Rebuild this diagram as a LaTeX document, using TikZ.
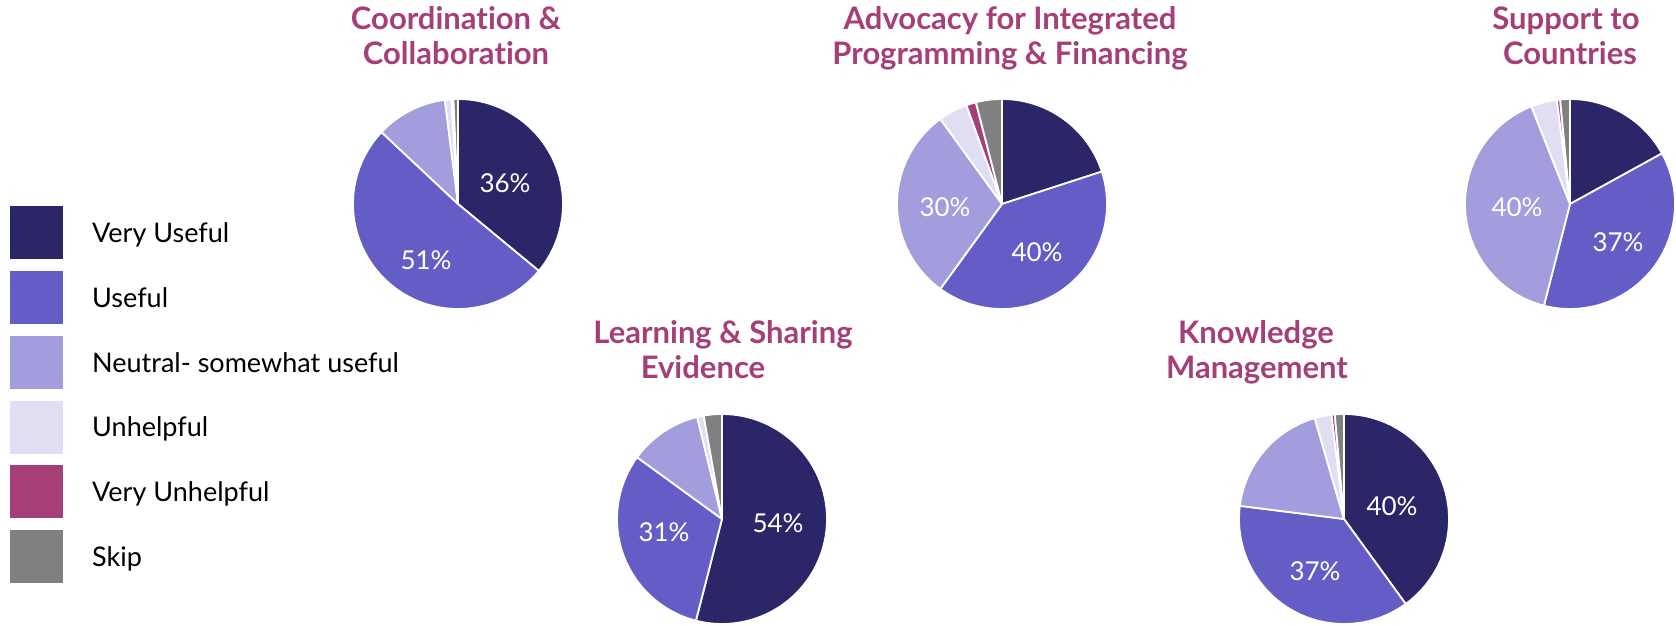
\documentclass[tikz,border=0pt]{standalone}
\usepackage{fontspec}
\setmainfont{Lato}[Ligatures={TeX,NoCommon}]
\definecolor{vuse}{HTML}{2B2668}
\definecolor{use}{HTML}{655DC6}
\definecolor{neut}{HTML}{A29DDD}
\definecolor{unh}{HTML}{E0DEF3}
\definecolor{vunh}{HTML}{A63F77}
\definecolor{skipc}{HTML}{808080}
\definecolor{ttl}{HTML}{A53F78}
\newcommand\drawpie[2]{%
  \gdef\mycumul{0}%
  \foreach \v/\c in {#2} {%
    \pgfmathsetmacro\aa{90-3.6*\mycumul}%
    \pgfmathsetmacro\bb{90-3.6*(\mycumul+\v)}%
    \fill[\c,draw=white,line width=1.8pt,line join=round] (#1) -- ++(\aa:105) arc[start angle=\aa,end angle=\bb,radius=105] -- cycle;%
    \pgfmathsetmacro\nc{\mycumul+\v}\global\let\mycumul\nc
  }%
}
\tikzset{
  ttlstyle/.style={font=\fontsize{31}{36}\selectfont\bfseries, text=ttl, anchor=base, inner sep=0pt},
  pct/.style={font=\fontsize{26}{30}\selectfont, text=white, inner sep=0pt},
  legbox/.style={inner sep=0pt, minimum width=53pt, minimum height=53pt, anchor=north west},
  legtxt/.style={font=\fontsize{27}{31}\selectfont, text=black, anchor=base west, inner sep=0pt}
}
\begin{document}
\begin{tikzpicture}[x=1pt,y=1pt]
\useasboundingbox (0,0) rectangle (1676,626);
% pies
\coordinate (c1) at (458,422);
\coordinate (c2) at (1002,422);
\coordinate (c3) at (1570,422);
\coordinate (c4) at (722,107);
\coordinate (c5) at (1344,107);
\drawpie{c1}{36/vuse,51/use,11/neut,1/unh,0.3/vunh,0.7/skipc}
\drawpie{c2}{20/vuse,40/use,30/neut,4.5/unh,1.5/vunh,4/skipc}
\drawpie{c3}{17/vuse,37/use,40/neut,4/unh,0.5/vunh,1.5/skipc}
\drawpie{c4}{54/vuse,31/use,11.2/neut,1/unh,2.8/skipc}
\drawpie{c5}{40/vuse,37/use,18.5/neut,2.6/unh,0.5/vunh,1.4/skipc}
% percent labels
\node[pct] (p1a) at (505,443) {36\%};
\node[pct] (p1b) at (426,366) {51\%};
\node[pct] (p2a) at (945,419) {30\%};
\node[pct] (p2b) at (1037,374) {40\%};
\node[pct] (p3a) at (1517,419) {40\%};
\node[pct] (p3b) at (1618,384) {37\%};
\node[pct] (p4a) at (778,103) {54\%};
\node[pct] (p4b) at (664,94) {31\%};
\node[pct] (p5a) at (1392,120) {40\%};
\node[pct] (p5b) at (1315,55) {37\%};
% titles
\node[ttlstyle] (t1a) at (456,596) {Coordination \&};
\node[ttlstyle] (t1b) at (456,561) {Collaboration};
\node[ttlstyle] (t2a) at (1010,596) {Advocacy for Integrated};
\node[ttlstyle] (t2b) at (1010,561) {Programming \& Financing};
\node[ttlstyle] (t3a) at (1566,596) {Support to};
\node[ttlstyle] (t3b) at (1570,561) {Countries};
\node[ttlstyle] (t4a) at (723,282) {Learning \& Sharing};
\node[ttlstyle] (t4b) at (703,247) {Evidence};
\node[ttlstyle] (t5a) at (1256,282) {Knowledge};
\node[ttlstyle] (t5b) at (1257,247) {Management};
% legend
\foreach \i/\c/\t in {0/vuse/Very Useful,1/use/Useful,2/neut/Neutral- somewhat useful,3/unh/Unhelpful,4/vunh/Very Unhelpful,5/skipc/Skip}{
  \node[legbox,fill=\c] (lb\i) at (10,{420-64.8*\i}) {};
  \node[legtxt] (lt\i) at (92,{383.5-64.8*\i}) {\t};
}
\end{tikzpicture}
\end{document}
